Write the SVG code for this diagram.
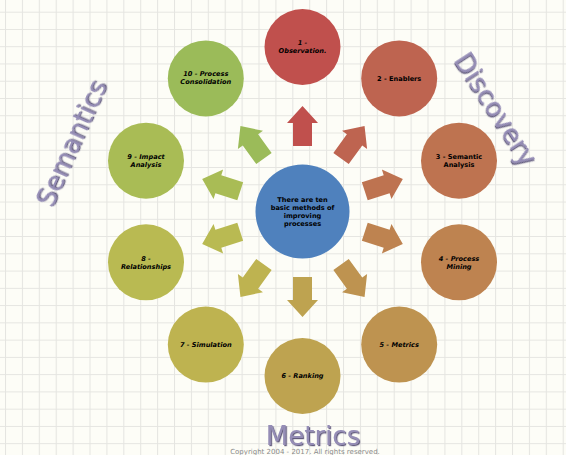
<svg xmlns="http://www.w3.org/2000/svg" xmlns:xlink="http://www.w3.org/1999/xlink" width="566" height="455" viewBox="0 0 566 455">
<defs>
<pattern id="grid" patternUnits="userSpaceOnUse" x="5" y="11.7" width="16.9" height="17.26">
<rect width="16.9" height="17.26" fill="#FDFDF7"/>
<path d="M0.5,0 V17.26 M0,0.5 H16.9" stroke="#E5E5E1" stroke-width="1" fill="none"/>
</pattern>
<path id="arr" d="M0,-20 L15.5,-3 L9.5,-3 L9.5,20 L-9.5,20 L-9.5,-3 L-15.5,-3 Z"/>
<filter id="sh" x="-10%" y="-30%" width="120%" height="160%">
<feDropShadow dx="1.2" dy="1.2" stdDeviation="0.4" flood-color="#4A3F6B" flood-opacity="0.85"/>
</filter>
</defs>
<style>
.lbl{font-family:"DejaVu Sans",Verdana,sans-serif;font-size:6.6px;font-weight:bold;fill:#000;text-anchor:middle}
.it{font-style:italic}
.title{font-family:"DejaVu Sans",Verdana,sans-serif;font-size:26px;fill:#958DB6;text-anchor:middle;filter:url(#sh)}
.copy{font-family:"DejaVu Sans",Verdana,sans-serif;font-size:7px;fill:#8A8A8A;text-anchor:middle}
</style>
<rect width="566" height="455" fill="url(#grid)"/>

<g id="connectors">
<use xlink:href="#arr" fill="#C0504D" transform="translate(302.5,126) rotate(0)"/>
<use xlink:href="#arr" fill="#BE6450" transform="translate(352.8,142.3) rotate(36)"/>
<use xlink:href="#arr" fill="#BE7350" transform="translate(383.8,185.1) rotate(72)"/>
<use xlink:href="#arr" fill="#BE8350" transform="translate(383.8,237.9) rotate(108)"/>
<use xlink:href="#arr" fill="#BE9350" transform="translate(352.8,280.7) rotate(144)"/>
<use xlink:href="#arr" fill="#BEA350" transform="translate(302.5,297) rotate(180)"/>
<use xlink:href="#arr" fill="#BEB350" transform="translate(252.2,280.7) rotate(216)"/>
<use xlink:href="#arr" fill="#B9BA52" transform="translate(221.2,237.9) rotate(252)"/>
<use xlink:href="#arr" fill="#A9BC55" transform="translate(221.2,185.1) rotate(288)"/>
<use xlink:href="#arr" fill="#9BBB59" transform="translate(252.2,142.3) rotate(324)"/>
</g>

<g id="center">
<circle cx="302.5" cy="211.5" r="47" fill="#4F81BD"/>
<text class="lbl" x="302.5" y="201.5">There are ten</text>
<text class="lbl" x="302.5" y="209.5">basic methods of</text>
<text class="lbl" x="302.5" y="217.5">improving</text>
<text class="lbl" x="302.5" y="225.5">processes</text>
</g>

<g id="n1">
<circle cx="302.5" cy="47" r="38" fill="#C0504D"/>
<text class="lbl it" x="302.5" y="45.3">1 -</text>
<text class="lbl it" x="302.5" y="53.3">Observation.</text>
</g>
<g id="n2">
<circle cx="399.2" cy="78.4" r="38" fill="#BE6450"/>
<text class="lbl" x="399.2" y="80.6">2 - Enablers</text>
</g>
<g id="n3">
<circle cx="459" cy="160.7" r="38" fill="#BE7350"/>
<text class="lbl" x="459" y="159">3 - Semantic</text>
<text class="lbl" x="459" y="167">Analysis</text>
</g>
<g id="n4">
<circle cx="459" cy="262.3" r="38" fill="#BE8350"/>
<text class="lbl it" x="459" y="260.5">4 - Process</text>
<text class="lbl it" x="459" y="268.5">Mining</text>
</g>
<g id="n5">
<circle cx="399.2" cy="344.6" r="38" fill="#BE9350"/>
<text class="lbl it" x="399.2" y="346.6">5 - Metrics</text>
</g>
<g id="n6">
<circle cx="302.5" cy="376" r="38" fill="#BEA350"/>
<text class="lbl it" x="302.5" y="378.2">6 - Ranking</text>
</g>
<g id="n7">
<circle cx="205.8" cy="344.6" r="38" fill="#BEB350"/>
<text class="lbl it" x="205.8" y="346.6">7 - Simulation</text>
</g>
<g id="n8">
<circle cx="146" cy="262.3" r="38" fill="#B9BA52"/>
<text class="lbl it" x="146" y="260.5">8 -</text>
<text class="lbl it" x="146" y="268.5">Relationships</text>
</g>
<g id="n9">
<circle cx="146" cy="160.7" r="38" fill="#A9BC55"/>
<text class="lbl it" x="146" y="159">9 - Impact</text>
<text class="lbl it" x="146" y="167">Analysis</text>
</g>
<g id="n10">
<circle cx="205.8" cy="78.4" r="38" fill="#9BBB59"/>
<text class="lbl it" x="205.8" y="76.3">10 - Process</text>
<text class="lbl it" x="205.8" y="84.3">Consolidation</text>
</g>

<g id="titles">
<text class="title" transform="translate(488,114) rotate(57)">Discovery</text>
<text class="title" transform="translate(80,147) rotate(-66)">Semantics</text>
<text class="title" x="313" y="445">Metrics</text>
</g>
<text class="copy" x="305" y="453.5">Copyright 2004 - 2017. All rights reserved.</text>
</svg>
